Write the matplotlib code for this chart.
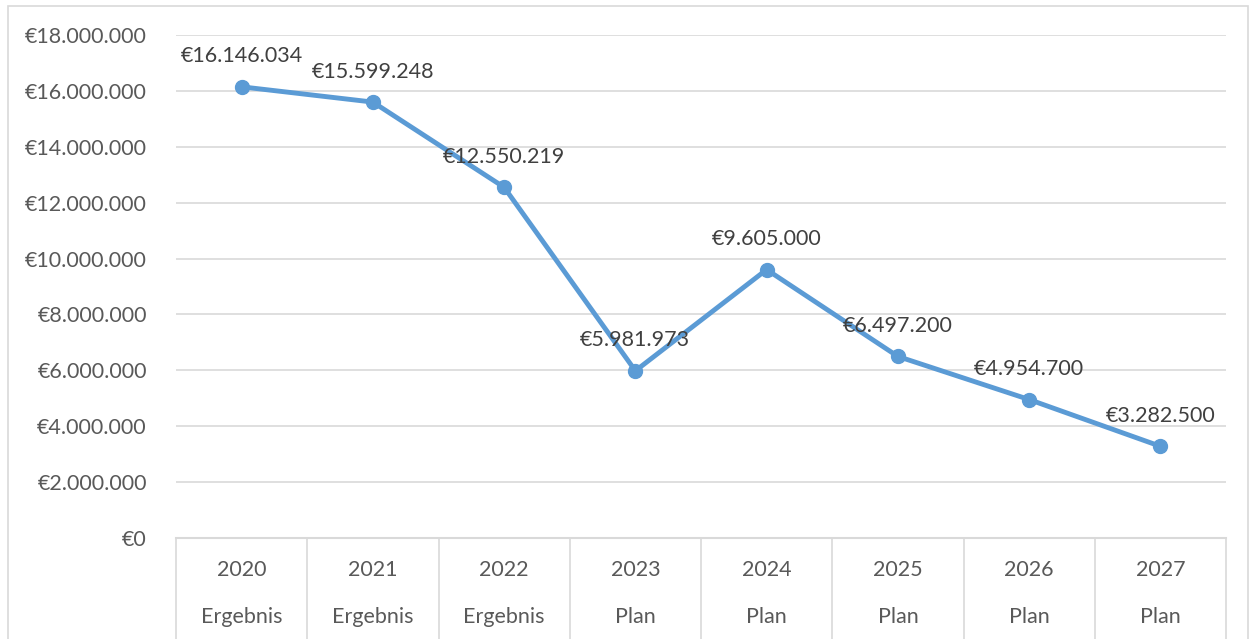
import matplotlib.pyplot as plt
from matplotlib.patches import Rectangle
from matplotlib.ticker import FuncFormatter

jahre = ['2020', '2021', '2022', '2023', '2024', '2025', '2026', '2027']
art = ['Ergebnis', 'Ergebnis', 'Ergebnis', 'Plan', 'Plan', 'Plan', 'Plan', 'Plan']
werte = [16146034, 15599248, 12550219, 5981973, 9605000, 6497200, 4954700, 3282500]

plt.rcParams['font.family'] = ['Lato', 'DejaVu Sans']

def euro(v):
    return '€' + f'{int(round(v)):,}'.replace(',', '.')

fig = plt.figure(figsize=(12.5, 6.39), dpi=100)
ax = fig.add_axes([176/1250, 1 - 538/639, 1050/1250, 503/639])

# outer chart border
fig.patches.append(Rectangle((8/1250, -0.01), 1240/1250, 1 - 6/639 + 0.01,
                             transform=fig.transFigure, fill=False,
                             edgecolor='#D9D9D9', lw=1.2))

x = list(range(len(werte)))
ax.plot(x, werte, color='#5B9BD5', lw=3.5, marker='o', ms=10, zorder=3)

for i, v in enumerate(werte):
    ax.annotate(euro(v), (i, v), xytext=(0, 22), textcoords='offset points',
                ha='center', va='center', fontsize=15.5, color='#404040')

ax.set_xlim(-0.5, len(werte) - 0.5)
ax.set_ylim(0, 18000000)
ax.set_yticks(range(0, 18000001, 2000000))
ax.yaxis.set_major_formatter(FuncFormatter(lambda v, p: euro(v)))
ax.tick_params(axis='y', length=0, labelsize=15.5, labelcolor='#595959', pad=21)
ax.set_xticks([])
ax.grid(axis='y', color='#D9D9D9', lw=1.2)
ax.set_axisbelow(True)
for s in ['top', 'right', 'left']:
    ax.spines[s].set_visible(False)
ax.spines['bottom'].set_color('#D9D9D9')
ax.spines['bottom'].set_linewidth(1.5)

# multi-level category axis
tr = ax.get_xaxis_transform()
for i in range(len(werte) + 1):
    ax.plot([i - 0.5, i - 0.5], [0, -0.21], transform=tr, color='#D9D9D9',
            lw=1.2, clip_on=False)
for i in x:
    ax.text(i, -0.064, jahre[i], transform=tr, ha='center', va='center',
            fontsize=15.5, color='#595959')
    ax.text(i, -0.157, art[i], transform=tr, ha='center', va='center',
            fontsize=15.5, color='#595959')

fig.savefig('out.png', dpi=100)
